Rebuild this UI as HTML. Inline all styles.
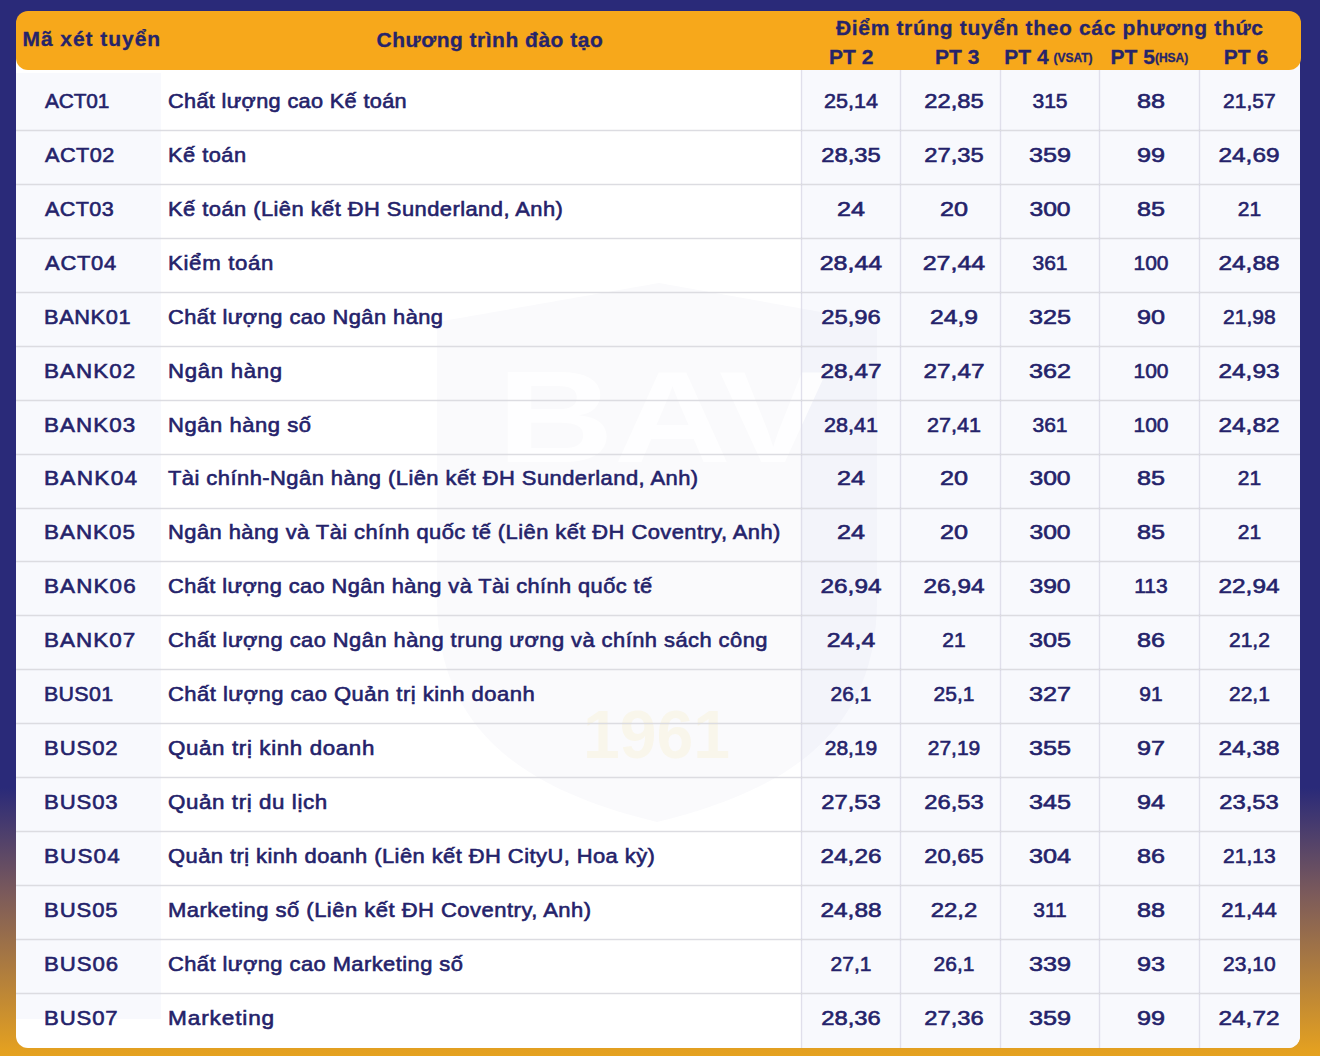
<!DOCTYPE html>
<html><head><meta charset="utf-8"><style>
*{margin:0;padding:0;box-sizing:border-box}
html,body{width:1320px;height:1056px;overflow:hidden}
body{position:relative;font-family:"Liberation Sans",sans-serif;color:#24226a;
background:linear-gradient(to bottom,#2a2a79 0px,#2a2a79 788px,#7b5a5b 893px,#e3a021 1050px,#e5a21f 1056px);}
.card{position:absolute;left:16px;top:40px;width:1284px;height:1008px;background:#fff;border-radius:0 0 12px 12px;overflow:hidden}
.codecol{position:absolute;left:0;top:33px;width:145px;height:946px;background:#f8f9fd}
.numcol{position:absolute;left:785px;top:0;width:499px;height:100%;background:#f8f9fd}
.vl{position:absolute;top:0;height:100%;width:1px;background:#e0dfeb;box-shadow:1px 0 0 rgba(60,50,140,0.025),-1px 0 0 rgba(60,50,140,0.025)}
.hl{position:absolute;left:0;width:100%;height:1px;background:#dcdce1;box-shadow:0 1px 0 rgba(0,0,20,0.03),0 -1px 0 rgba(0,0,20,0.03)}
.hdr{position:absolute;left:16px;top:11px;width:1285px;height:59px;background:#f7a81b;border-radius:12px}
.t{position:absolute;height:54px;line-height:54px;font-size:21px;white-space:nowrap;transform-origin:0 50%;-webkit-text-stroke:0.6px #24226a}
.c{text-align:center}
.h{position:absolute;font-weight:bold;white-space:nowrap;color:#26246a;-webkit-text-stroke:0.3px #26246a}
</style></head><body>
<div class="card">
<div class="codecol"></div>
<div class="numcol"></div>
<svg style="position:absolute;left:-16px;top:-40px" width="1320" height="1056" viewBox="0 0 1320 1056">
<path d="M437 322 L659 283 L877 322 L877 600 C877 730 790 790 657 822 C524 790 437 730 437 600 Z" fill="#2b2a78" fill-opacity="0.024"/>
<text x="497" y="462" font-family="Liberation Sans" font-weight="bold" font-size="130" fill="#fff" fill-opacity="0.8" textLength="330" lengthAdjust="spacingAndGlyphs">BAV</text>
<text x="583" y="758" font-family="Liberation Sans" font-weight="bold" font-size="68" fill="#f7c81b" fill-opacity="0.075" textLength="147" lengthAdjust="spacingAndGlyphs">1961</text>
</svg>

<div class="vl" style="left:785px"></div>
<div class="vl" style="left:884px"></div>
<div class="vl" style="left:984px"></div>
<div class="vl" style="left:1083px"></div>
<div class="vl" style="left:1183px"></div>
<div class="hl" style="top:90px"></div>
<div class="hl" style="top:144px"></div>
<div class="hl" style="top:198px"></div>
<div class="hl" style="top:252px"></div>
<div class="hl" style="top:306px"></div>
<div class="hl" style="top:360px"></div>
<div class="hl" style="top:414px"></div>
<div class="hl" style="top:468px"></div>
<div class="hl" style="top:521px"></div>
<div class="hl" style="top:575px"></div>
<div class="hl" style="top:629px"></div>
<div class="hl" style="top:683px"></div>
<div class="hl" style="top:737px"></div>
<div class="hl" style="top:791px"></div>
<div class="hl" style="top:845px"></div>
<div class="hl" style="top:899px"></div>
<div class="hl" style="top:953px"></div>
</div>
<div class="hdr"></div>
<div class="h" style="left:22.5px;top:22.3px;font-size:21px;line-height:34px;letter-spacing:0.95px">Mã xét tuyển</div>
<div class="h" style="left:376.5px;top:22.5px;font-size:21px;line-height:34px;letter-spacing:0.5px">Chương trình đào tạo</div>
<div class="h" style="left:836px;top:13px;font-size:21px;line-height:30px;letter-spacing:0.65px">Điểm trúng tuyển theo các phương thức</div>
<div class="h" style="left:829px;top:42px;font-size:21px;line-height:30px">PT 2</div>
<div class="h" style="left:935px;top:42px;font-size:21px;line-height:30px">PT 3</div>
<div class="h" style="left:1004.3px;top:42px;font-size:21px;line-height:30px">PT 4</div>
<div class="h" style="left:1053.4px;top:48px;font-size:12px;line-height:20px">(VSAT)</div>
<div class="h" style="left:1110.6px;top:42px;font-size:21px;line-height:30px">PT 5</div>
<div class="h" style="left:1154.9px;top:48px;font-size:12px;line-height:20px">(HSA)</div>
<div class="h" style="left:1223.8px;top:42px;font-size:21px;line-height:30px">PT 6</div>
<div class="t" style="left:44.50px;top:73.90px;transform:scaleX(0.9923);letter-spacing:-0.126px">ACT01</div>
<div class="t" style="left:168.47px;top:73.90px;transform:scaleX(1.0329);letter-spacing:0.337px">Chất lượng cao Kế toán</div>
<div class="t c" style="left:801.0px;width:100px;top:73.90px;transform:scaleX(1.0275);transform-origin:50% 50%">25,14</div>
<div class="t c" style="left:904.0px;width:100px;top:73.90px;transform:scaleX(1.1314);transform-origin:50% 50%">22,85</div>
<div class="t c" style="left:1000.0px;width:100px;top:73.90px;transform:scaleX(1.0030);transform-origin:50% 50%">315</div>
<div class="t c" style="left:1101.0px;width:100px;top:73.90px;transform:scaleX(1.2000);transform-origin:50% 50%">88</div>
<div class="t c" style="left:1199.4px;width:100px;top:73.90px;transform:scaleX(1.0000);transform-origin:50% 50%">21,57</div>
<div class="t" style="left:44.50px;top:127.84px;transform:scaleX(1.0308);letter-spacing:0.485px">ACT02</div>
<div class="t" style="left:168.46px;top:127.84px;transform:scaleX(1.0394);letter-spacing:0.449px">Kế toán</div>
<div class="t c" style="left:801.0px;width:100px;top:127.84px;transform:scaleX(1.1314);transform-origin:50% 50%">28,35</div>
<div class="t c" style="left:904.0px;width:100px;top:127.84px;transform:scaleX(1.1314);transform-origin:50% 50%">27,35</div>
<div class="t c" style="left:1000.0px;width:100px;top:127.84px;transform:scaleX(1.2000);transform-origin:50% 50%">359</div>
<div class="t c" style="left:1101.0px;width:100px;top:127.84px;transform:scaleX(1.2000);transform-origin:50% 50%">99</div>
<div class="t c" style="left:1199.4px;width:100px;top:127.84px;transform:scaleX(1.1608);transform-origin:50% 50%">24,69</div>
<div class="t" style="left:44.50px;top:181.78px;transform:scaleX(1.0262);letter-spacing:0.414px">ACT03</div>
<div class="t" style="left:168.46px;top:181.78px;transform:scaleX(1.0439);letter-spacing:0.422px">Kế toán (Liên kết ĐH Sunderland, Anh)</div>
<div class="t c" style="left:801.0px;width:100px;top:181.78px;transform:scaleX(1.2000);transform-origin:50% 50%">24</div>
<div class="t c" style="left:904.0px;width:100px;top:181.78px;transform:scaleX(1.2000);transform-origin:50% 50%">20</div>
<div class="t c" style="left:1000.0px;width:100px;top:181.78px;transform:scaleX(1.1735);transform-origin:50% 50%">300</div>
<div class="t c" style="left:1101.0px;width:100px;top:181.78px;transform:scaleX(1.2000);transform-origin:50% 50%">85</div>
<div class="t c" style="left:1199.4px;width:100px;top:181.78px;transform:scaleX(1.0000);transform-origin:50% 50%">21</div>
<div class="t" style="left:44.50px;top:235.72px;transform:scaleX(1.0454);letter-spacing:0.705px">ACT04</div>
<div class="t" style="left:168.44px;top:235.72px;transform:scaleX(1.0581);letter-spacing:0.638px">Kiểm toán</div>
<div class="t c" style="left:801.0px;width:100px;top:235.72px;transform:scaleX(1.1902);transform-origin:50% 50%">28,44</div>
<div class="t c" style="left:904.0px;width:100px;top:235.72px;transform:scaleX(1.1902);transform-origin:50% 50%">27,44</div>
<div class="t c" style="left:1000.0px;width:100px;top:235.72px;transform:scaleX(1.0030);transform-origin:50% 50%">361</div>
<div class="t c" style="left:1101.0px;width:100px;top:235.72px;transform:scaleX(1.0000);transform-origin:50% 50%">100</div>
<div class="t c" style="left:1199.4px;width:100px;top:235.72px;transform:scaleX(1.1608);transform-origin:50% 50%">24,88</div>
<div class="t" style="left:44.36px;top:289.66px;transform:scaleX(1.038);letter-spacing:0.578px">BANK01</div>
<div class="t" style="left:168.46px;top:289.66px;transform:scaleX(1.0409);letter-spacing:0.43px">Chất lượng cao Ngân hàng</div>
<div class="t c" style="left:801.0px;width:100px;top:289.66px;transform:scaleX(1.1314);transform-origin:50% 50%">25,96</div>
<div class="t c" style="left:904.0px;width:100px;top:289.66px;transform:scaleX(1.1769);transform-origin:50% 50%">24,9</div>
<div class="t c" style="left:1000.0px;width:100px;top:289.66px;transform:scaleX(1.2000);transform-origin:50% 50%">325</div>
<div class="t c" style="left:1101.0px;width:100px;top:289.66px;transform:scaleX(1.2000);transform-origin:50% 50%">90</div>
<div class="t c" style="left:1199.4px;width:100px;top:289.66px;transform:scaleX(1.0000);transform-origin:50% 50%">21,98</div>
<div class="t" style="left:44.33px;top:343.60px;transform:scaleX(1.0671);letter-spacing:0.993px">BANK02</div>
<div class="t" style="left:168.44px;top:343.60px;transform:scaleX(1.0559);letter-spacing:0.669px">Ngân hàng</div>
<div class="t c" style="left:801.0px;width:100px;top:343.60px;transform:scaleX(1.1608);transform-origin:50% 50%">28,47</div>
<div class="t c" style="left:904.0px;width:100px;top:343.60px;transform:scaleX(1.1608);transform-origin:50% 50%">27,47</div>
<div class="t c" style="left:1000.0px;width:100px;top:343.60px;transform:scaleX(1.2000);transform-origin:50% 50%">362</div>
<div class="t c" style="left:1101.0px;width:100px;top:343.60px;transform:scaleX(1.0000);transform-origin:50% 50%">100</div>
<div class="t c" style="left:1199.4px;width:100px;top:343.60px;transform:scaleX(1.1608);transform-origin:50% 50%">24,93</div>
<div class="t" style="left:44.33px;top:397.54px;transform:scaleX(1.0665);letter-spacing:0.985px">BANK03</div>
<div class="t" style="left:168.45px;top:397.54px;transform:scaleX(1.0469);letter-spacing:0.525px">Ngân hàng số</div>
<div class="t c" style="left:801.0px;width:100px;top:397.54px;transform:scaleX(1.0275);transform-origin:50% 50%">28,41</div>
<div class="t c" style="left:904.0px;width:100px;top:397.54px;transform:scaleX(1.0275);transform-origin:50% 50%">27,41</div>
<div class="t c" style="left:1000.0px;width:100px;top:397.54px;transform:scaleX(1.0030);transform-origin:50% 50%">361</div>
<div class="t c" style="left:1101.0px;width:100px;top:397.54px;transform:scaleX(1.0000);transform-origin:50% 50%">100</div>
<div class="t c" style="left:1199.4px;width:100px;top:397.54px;transform:scaleX(1.1608);transform-origin:50% 50%">24,82</div>
<div class="t" style="left:44.32px;top:451.48px;transform:scaleX(1.0785);letter-spacing:1.15px">BANK04</div>
<div class="t" style="left:168.46px;top:451.48px;transform:scaleX(1.0445);letter-spacing:0.432px">Tài chính-Ngân hàng (Liên kết ĐH Sunderland, Anh)</div>
<div class="t c" style="left:801.0px;width:100px;top:451.48px;transform:scaleX(1.2000);transform-origin:50% 50%">24</div>
<div class="t c" style="left:904.0px;width:100px;top:451.48px;transform:scaleX(1.2000);transform-origin:50% 50%">20</div>
<div class="t c" style="left:1000.0px;width:100px;top:451.48px;transform:scaleX(1.1735);transform-origin:50% 50%">300</div>
<div class="t c" style="left:1101.0px;width:100px;top:451.48px;transform:scaleX(1.2000);transform-origin:50% 50%">85</div>
<div class="t c" style="left:1199.4px;width:100px;top:451.48px;transform:scaleX(1.0000);transform-origin:50% 50%">21</div>
<div class="t" style="left:44.33px;top:505.42px;transform:scaleX(1.0652);letter-spacing:0.967px">BANK05</div>
<div class="t" style="left:168.46px;top:505.42px;transform:scaleX(1.0439);letter-spacing:0.414px">Ngân hàng và Tài chính quốc tế (Liên kết ĐH Coventry, Anh)</div>
<div class="t c" style="left:801.0px;width:100px;top:505.42px;transform:scaleX(1.2000);transform-origin:50% 50%">24</div>
<div class="t c" style="left:904.0px;width:100px;top:505.42px;transform:scaleX(1.2000);transform-origin:50% 50%">20</div>
<div class="t c" style="left:1000.0px;width:100px;top:505.42px;transform:scaleX(1.1735);transform-origin:50% 50%">300</div>
<div class="t c" style="left:1101.0px;width:100px;top:505.42px;transform:scaleX(1.2000);transform-origin:50% 50%">85</div>
<div class="t c" style="left:1199.4px;width:100px;top:505.42px;transform:scaleX(1.0000);transform-origin:50% 50%">21</div>
<div class="t" style="left:44.33px;top:559.36px;transform:scaleX(1.0696);letter-spacing:1.028px">BANK06</div>
<div class="t" style="left:168.46px;top:559.36px;transform:scaleX(1.0392);letter-spacing:0.384px">Chất lượng cao Ngân hàng và Tài chính quốc tế</div>
<div class="t c" style="left:801.0px;width:100px;top:559.36px;transform:scaleX(1.1608);transform-origin:50% 50%">26,94</div>
<div class="t c" style="left:904.0px;width:100px;top:559.36px;transform:scaleX(1.1608);transform-origin:50% 50%">26,94</div>
<div class="t c" style="left:1000.0px;width:100px;top:559.36px;transform:scaleX(1.1735);transform-origin:50% 50%">390</div>
<div class="t c" style="left:1101.0px;width:100px;top:559.36px;transform:scaleX(1.0000);transform-origin:50% 50%">113</div>
<div class="t c" style="left:1199.4px;width:100px;top:559.36px;transform:scaleX(1.1608);transform-origin:50% 50%">22,94</div>
<div class="t" style="left:44.33px;top:613.30px;transform:scaleX(1.0665);letter-spacing:0.985px">BANK07</div>
<div class="t" style="left:168.46px;top:613.30px;transform:scaleX(1.0432);letter-spacing:0.43px">Chất lượng cao Ngân hàng trung ương và chính sách công</div>
<div class="t c" style="left:801.0px;width:100px;top:613.30px;transform:scaleX(1.1850);transform-origin:50% 50%">24,4</div>
<div class="t c" style="left:904.0px;width:100px;top:613.30px;transform:scaleX(1.0000);transform-origin:50% 50%">21</div>
<div class="t c" style="left:1000.0px;width:100px;top:613.30px;transform:scaleX(1.2000);transform-origin:50% 50%">305</div>
<div class="t c" style="left:1101.0px;width:100px;top:613.30px;transform:scaleX(1.2000);transform-origin:50% 50%">86</div>
<div class="t c" style="left:1199.4px;width:100px;top:613.30px;transform:scaleX(1.0000);transform-origin:50% 50%">21,2</div>
<div class="t" style="left:44.38px;top:667.24px;transform:scaleX(1.0192);letter-spacing:0.307px">BUS01</div>
<div class="t" style="left:168.45px;top:667.24px;transform:scaleX(1.0476);letter-spacing:0.458px">Chất lượng cao Quản trị kinh doanh</div>
<div class="t c" style="left:801.0px;width:100px;top:667.24px;transform:scaleX(1.0000);transform-origin:50% 50%">26,1</div>
<div class="t c" style="left:904.0px;width:100px;top:667.24px;transform:scaleX(1.0000);transform-origin:50% 50%">25,1</div>
<div class="t c" style="left:1000.0px;width:100px;top:667.24px;transform:scaleX(1.2000);transform-origin:50% 50%">327</div>
<div class="t c" style="left:1101.0px;width:100px;top:667.24px;transform:scaleX(1.0000);transform-origin:50% 50%">91</div>
<div class="t c" style="left:1199.4px;width:100px;top:667.24px;transform:scaleX(1.0000);transform-origin:50% 50%">22,1</div>
<div class="t" style="left:44.35px;top:721.18px;transform:scaleX(1.0538);letter-spacing:0.83px">BUS02</div>
<div class="t" style="left:168.44px;top:721.18px;transform:scaleX(1.0633);letter-spacing:0.598px">Quản trị kinh doanh</div>
<div class="t c" style="left:801.0px;width:100px;top:721.18px;transform:scaleX(1.0000);transform-origin:50% 50%">28,19</div>
<div class="t c" style="left:904.0px;width:100px;top:721.18px;transform:scaleX(1.0000);transform-origin:50% 50%">27,19</div>
<div class="t c" style="left:1000.0px;width:100px;top:721.18px;transform:scaleX(1.2000);transform-origin:50% 50%">355</div>
<div class="t c" style="left:1101.0px;width:100px;top:721.18px;transform:scaleX(1.2000);transform-origin:50% 50%">97</div>
<div class="t c" style="left:1199.4px;width:100px;top:721.18px;transform:scaleX(1.1608);transform-origin:50% 50%">24,38</div>
<div class="t" style="left:44.35px;top:775.12px;transform:scaleX(1.0538);letter-spacing:0.83px">BUS03</div>
<div class="t" style="left:168.44px;top:775.12px;transform:scaleX(1.064);letter-spacing:0.558px">Quản trị du lịch</div>
<div class="t c" style="left:801.0px;width:100px;top:775.12px;transform:scaleX(1.1314);transform-origin:50% 50%">27,53</div>
<div class="t c" style="left:904.0px;width:100px;top:775.12px;transform:scaleX(1.1314);transform-origin:50% 50%">26,53</div>
<div class="t c" style="left:1000.0px;width:100px;top:775.12px;transform:scaleX(1.2000);transform-origin:50% 50%">345</div>
<div class="t c" style="left:1101.0px;width:100px;top:775.12px;transform:scaleX(1.2000);transform-origin:50% 50%">94</div>
<div class="t c" style="left:1199.4px;width:100px;top:775.12px;transform:scaleX(1.1314);transform-origin:50% 50%">23,53</div>
<div class="t" style="left:44.33px;top:829.06px;transform:scaleX(1.0692);letter-spacing:1.052px">BUS04</div>
<div class="t" style="left:168.46px;top:829.06px;transform:scaleX(1.0447);letter-spacing:0.414px">Quản trị kinh doanh (Liên kết ĐH CityU, Hoa kỳ)</div>
<div class="t c" style="left:801.0px;width:100px;top:829.06px;transform:scaleX(1.1608);transform-origin:50% 50%">24,26</div>
<div class="t c" style="left:904.0px;width:100px;top:829.06px;transform:scaleX(1.1314);transform-origin:50% 50%">20,65</div>
<div class="t c" style="left:1000.0px;width:100px;top:829.06px;transform:scaleX(1.2000);transform-origin:50% 50%">304</div>
<div class="t c" style="left:1101.0px;width:100px;top:829.06px;transform:scaleX(1.2000);transform-origin:50% 50%">86</div>
<div class="t c" style="left:1199.4px;width:100px;top:829.06px;transform:scaleX(1.0000);transform-origin:50% 50%">21,13</div>
<div class="t" style="left:44.35px;top:883.00px;transform:scaleX(1.0538);letter-spacing:0.83px">BUS05</div>
<div class="t" style="left:168.45px;top:883.00px;transform:scaleX(1.0483);letter-spacing:0.454px">Marketing số (Liên kết ĐH Coventry, Anh)</div>
<div class="t c" style="left:801.0px;width:100px;top:883.00px;transform:scaleX(1.1608);transform-origin:50% 50%">24,88</div>
<div class="t c" style="left:904.0px;width:100px;top:883.00px;transform:scaleX(1.1385);transform-origin:50% 50%">22,2</div>
<div class="t c" style="left:1000.0px;width:100px;top:883.00px;transform:scaleX(1.0000);transform-origin:50% 50%">311</div>
<div class="t c" style="left:1101.0px;width:100px;top:883.00px;transform:scaleX(1.2000);transform-origin:50% 50%">88</div>
<div class="t c" style="left:1199.4px;width:100px;top:883.00px;transform:scaleX(1.0569);transform-origin:50% 50%">21,44</div>
<div class="t" style="left:44.34px;top:936.94px;transform:scaleX(1.0577);letter-spacing:0.886px">BUS06</div>
<div class="t" style="left:168.46px;top:936.94px;transform:scaleX(1.0426);letter-spacing:0.424px">Chất lượng cao Marketing số</div>
<div class="t c" style="left:801.0px;width:100px;top:936.94px;transform:scaleX(1.0000);transform-origin:50% 50%">27,1</div>
<div class="t c" style="left:904.0px;width:100px;top:936.94px;transform:scaleX(1.0000);transform-origin:50% 50%">26,1</div>
<div class="t c" style="left:1000.0px;width:100px;top:936.94px;transform:scaleX(1.2000);transform-origin:50% 50%">339</div>
<div class="t c" style="left:1101.0px;width:100px;top:936.94px;transform:scaleX(1.2000);transform-origin:50% 50%">93</div>
<div class="t c" style="left:1199.4px;width:100px;top:936.94px;transform:scaleX(1.0000);transform-origin:50% 50%">23,10</div>
<div class="t" style="left:44.35px;top:990.88px;transform:scaleX(1.0538);letter-spacing:0.83px">BUS07</div>
<div class="t" style="left:168.42px;top:990.88px;transform:scaleX(1.0767);letter-spacing:0.801px">Marketing</div>
<div class="t c" style="left:801.0px;width:100px;top:990.88px;transform:scaleX(1.1314);transform-origin:50% 50%">28,36</div>
<div class="t c" style="left:904.0px;width:100px;top:990.88px;transform:scaleX(1.1314);transform-origin:50% 50%">27,36</div>
<div class="t c" style="left:1000.0px;width:100px;top:990.88px;transform:scaleX(1.2000);transform-origin:50% 50%">359</div>
<div class="t c" style="left:1101.0px;width:100px;top:990.88px;transform:scaleX(1.2000);transform-origin:50% 50%">99</div>
<div class="t c" style="left:1199.4px;width:100px;top:990.88px;transform:scaleX(1.1608);transform-origin:50% 50%">24,72</div>
</body></html>
